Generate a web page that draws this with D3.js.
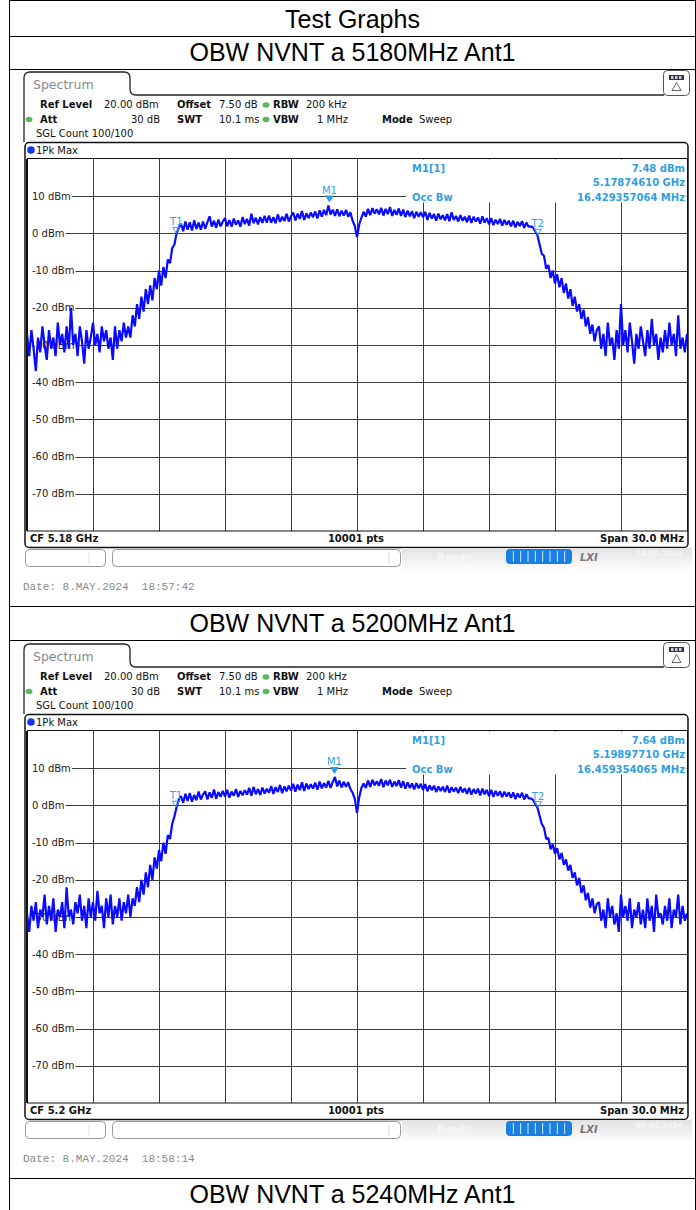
<!DOCTYPE html>
<html>
<head>
<meta charset="utf-8">
<script src="https://cdn.jsdelivr.net/npm/d3@7"></script>
<style>
  body { margin: 0; background: #fff; }
  svg { display: block; }
</style>
</head>
<body>
<svg id="page" width="696" height="1210"></svg>
<script>
/** Chart data **/
var pageTitle = "Test Graphs";
var sectionTitles = ["OBW NVNT a 5180MHz Ant1", "OBW NVNT a 5200MHz Ant1", "OBW NVNT a 5240MHz Ant1"];
var centerLabels = ["CF 5.18 GHz", "CF 5.2 GHz"];
var spanLabel = "Span 30.0 MHz";
var pointsLabel = "10001 pts";
var markerFreqs = [-1.2539, -1.0229];          // MHz offset from CF
var markerLevels = [7.48, 7.64];               // dBm
var markerReadouts = [
    ["7.48 dBm", "5.17874610 GHz", "16.429357064 MHz"],
    ["7.64 dBm", "5.19897710 GHz", "16.459354065 MHz"]
];
var obwWidths = [16.429357064, 16.459354065];  // MHz
var dateLines = ["Date: 8.MAY.2024  18:57:42", "Date: 8.MAY.2024  18:58:14"];
var statusTimes = ["18:57:42", "18:58:14"];
var levelTicks = [10, 0, -10, -20, -30, -40, -50, -60, -70];
var freqGrid = [-12, -9, -6, -3, 0, 3, 6, 9, 12];
var sweepStart = -15;     // MHz
var sweepStep = 0.1;      // MHz per sample

// Pk Max trace, 5180 MHz (dBm), one row per MHz
var trace5180 = [
    -27,-33,-26,-31,-37,-28,-32,-25,-30,-34,
    -26,-31,-28,-33,-24,-30,-27,-32,-25,-31,
    -20,-30,-27,-33,-25,-29,-35,-26,-31,-28,
    -24,-30,-27,-32,-25,-29,-26,-31,-28,-34,
    -25,-31,-26,-29,-24,-28,-25,-28,-22,-25,
    -19,-23,-17,-21,-15,-19,-14,-18,-12,-15,
    -10,-14,-9,-12,-7,-8,-4,-3,0,1.5,
    2.6,0.6,3.2,1,3,0.8,3.5,1.2,2.9,1,
    3.2,1.3,3,4.6,1.8,3.4,1.5,3.7,1.9,3.2,
    4.1,1.9,3.6,1.8,4,2.3,3.5,1.8,4.4,2.5,
    3.9,2.1,5.3,2.7,4.2,2.4,4.4,2.8,4.7,2.9,
    4.8,2.9,4.4,2.7,5.1,3.1,4.5,3.3,5.3,3.2,
    4.6,5.6,3.5,5.3,3.9,6,3.6,5.4,4.1,5.6,
    4.3,5.9,4,6.2,4.5,6.3,4.9,7.48,5.1,6.4,
    4.7,6.5,4.6,6.1,4.8,6.3,4.5,5.7,3.4,2,
    -1,2.4,4.2,5.8,4.5,6.6,4.9,6.8,5.3,6.5,
    5.1,6.9,4.8,6.6,5.2,7.1,4.7,6.3,5,6.7,
    4.7,6.4,4.4,6.1,4.6,6,4.1,5.8,4.5,5.7,
    4.3,5.8,3.6,5.5,4,5.2,3.4,5.3,3.8,4.9,
    3.5,5.2,3.3,5.7,3.6,4.7,3.2,4.9,3.4,4.5,
    3,4.8,2.8,4.5,3.2,4.3,2.6,4.6,2.9,4.1,
    2.4,4.1,2.2,3.7,2.5,3.9,2.1,3.6,2.3,3.4,
    1.9,3.4,1.6,3.1,2,3.3,1.5,2.9,1.8,1.9,
    1.6,0.5,-0.5,-3,-5.5,-6,-9.5,-8.5,-12,-10,
    -13.5,-11,-14.5,-12,-16,-13.5,-17.5,-15,-19.5,-17,
    -21,-19,-23,-20.5,-25,-22.5,-27,-24.5,-29,-26,
    -25,-31,-27,-33,-24,-30,-28,-34,-26,-31,
    -19,-30,-26,-32,-24,-29,-35,-27,-31,-25,
    -29,-33,-26,-31,-23,-30,-27,-34,-28,-32,
    -26,-31,-24,-30,-27,-33,-22,-31,-28,-32,
    -27
];

// Pk Max trace, 5200 MHz (dBm)
var trace5200 = [
    -29,-34,-27,-31,-26,-33,-28,-30,-24,-32,
    -27,-31,-25,-34,-28,-30,-26,-33,-22,-30,
    -28,-32,-26,-29,-24,-31,-27,-33,-25,-30,
    -26,-31,-23,-29,-27,-33,-25,-30,-24,-32,
    -27,-30,-25,-31,-26,-29,-24,-30,-25,-27,
    -22,-26,-20,-24,-18,-22,-16,-20,-14,-17,
    -12,-15,-10,-13,-8,-9,-5,-3,-0.5,1.5,
    2.5,0.7,3.1,1.2,3.3,1,2.8,1.4,3.7,1.6,
    2.9,3.8,1.6,3.5,2,4.3,1.8,3.6,2.3,3.9,
    2.4,4.2,2.1,3.7,2.6,4.4,2.3,3.9,2.7,4.1,
    2.9,4.7,2.6,5,3,4.4,2.8,4.8,3.2,4.5,
    3.4,5.2,3.1,4.9,3.6,5.5,3.3,5.1,3.8,5.3,
    4,5.8,3.7,5.6,4.1,6.2,3.9,5.9,4.4,5.7,
    4.5,6.1,4.2,6.4,4.6,6,4.8,6.6,4.7,6.3,
    7.64,5.1,6.7,4.8,6.4,5,6.2,4.4,3.4,1.8,
    -2,2.2,4.7,5.9,4.7,6.7,5,6.9,5.4,6.5,
    5.3,7.1,4.9,6.7,5.4,6.9,5,6.4,5.2,6.8,
    4.8,6.5,4.5,6.2,4.7,5.9,4.3,6,4.6,5.8,
    4.2,5.7,3.8,5.4,4.1,5.3,3.6,5.1,3.9,5,
    3.6,5.3,3.4,4.9,3.7,4.8,3.3,5,3.5,4.6,
    3.1,4.7,2.9,4.4,3.2,4.5,2.7,4.5,3,4.2,
    2.5,4.2,2.3,3.9,2.6,3.8,2.2,3.7,2.4,3.5,
    2,3.5,1.7,3.2,2.1,3.4,1.6,3,1.9,1.9,
    1.5,0.4,-0.6,-2.8,-5,-6,-9,-8.8,-11.8,-10.5,
    -13,-11.5,-14.5,-12.8,-16,-14.5,-17.5,-16,-19.5,-18,
    -21.5,-19.5,-23.5,-21.5,-25.5,-23.5,-27.5,-25,-29,-26.5,
    -26,-31,-28,-33,-25,-30,-27,-32,-29,-34,
    -24,-30,-27,-31,-25,-33,-28,-30,-26,-32,
    -28,-33,-25,-31,-27,-34,-24,-30,-29,-32,
    -27,-31,-25,-33,-28,-30,-24,-32,-27,-31,
    -29
];

var traces = [trace5180, trace5200];

/** Layout **/
var tableLeft = 9.5, tableRight = 695.5;
var rowLines = [0.5, 36.5, 69.5, 606.5, 640.5, 1178.5];
var screenTops = [69, 641];

var plotX0 = 27, plotX1 = 687, plotY0 = 159, plotY1 = 531;

var color_trace  = '#0a0aff';
var color_marker = '#2f9fe2';
var color_grid   = '#3c3c3c';
var uiFont = '"DejaVu Sans", Verdana, sans-serif';

var svg = d3.select("#page");

var defs = svg.append("defs");
var grad = defs.append("linearGradient")
    .attr("id", "statusGrad")
    .attr("x1", 0).attr("y1", 0).attr("x2", 0).attr("y2", 1);
grad.append("stop").attr("offset", "0%").attr("stop-color", "#e2e2e2");
grad.append("stop").attr("offset", "100%").attr("stop-color", "#ffffff");

defs.append("clipPath").attr("id", "plotClip")
    .append("rect")
    .attr("x", plotX0).attr("y", plotY0)
    .attr("width", plotX1 - plotX0).attr("height", plotY1 - plotY0);

drawTable();
drawScreen(0);
drawScreen(1);


/**
 * Document table with the title rows.
 */
function drawTable()
{
    var t = svg.append("g");

    rowLines.forEach(function(y) {
        t.append("line")
            .attr("x1", tableLeft).attr("x2", tableRight)
            .attr("y1", y).attr("y2", y)
            .attr("stroke", "#000").attr("stroke-width", 1);
    });

    [tableLeft, tableRight].forEach(function(x) {
        t.append("line")
            .attr("x1", x).attr("x2", x)
            .attr("y1", 0).attr("y2", 1210)
            .attr("stroke", "#000").attr("stroke-width", 1);
    });

    var titleY = [28, 61, 632, 1203];
    var titleText = [pageTitle].concat(sectionTitles);

    titleText.forEach(function(txt, i) {
        t.append("text")
            .attr("x", (tableLeft + tableRight) / 2)
            .attr("y", titleY[i])
            .attr("text-anchor", "middle")
            .attr("font-family", '"Liberation Sans", Arial, sans-serif')
            .attr("font-size", 25)
            .attr("fill", "#000")
            .text(txt);
    });
}


/**
 * One analyzer screenshot (spectrum, markers, status bar).
 */
function drawScreen(k)
{
    var trace = traces[k];
    var dy = screenTops[k] - screenTops[0];
    var g = svg.append("g").attr("transform", "translate(0," + dy + ")");

    var xScale = d3.scaleLinear().domain([-15, 15]).range([plotX0, plotX1]);
    var yScale = d3.scaleLinear().domain([-80, 20]).range([plotY1, plotY0]);

    // Tab frame
    g.append("path")
        .attr("d", "M24,142 V78 Q24,72 30,72 H124 Q130,72 130,78 V89 Q130,95 136,95 H664")
        .attr("fill", "none").attr("stroke", "#222").attr("stroke-width", 1.3);

    g.append("text")
        .attr("x", 33).attr("y", 89)
        .attr("font-family", uiFont).attr("font-size", 12.5)
        .attr("fill", "#888").text("Spectrum");

    // Window icon top right
    g.append("rect")
        .attr("x", 663.5).attr("y", 70.5).attr("width", 26).attr("height", 25).attr("rx", 4)
        .attr("fill", "#fff").attr("stroke", "#555");
    g.append("rect")
        .attr("x", 669).attr("y", 75).attr("width", 15).attr("height", 5)
        .attr("fill", "#334");
    [671, 675, 679].forEach(function(x) {
        g.append("rect").attr("x", x).attr("y", 76).attr("width", 2.5).attr("height", 3).attr("fill", "#ccd");
    });
    g.append("path")
        .attr("d", "M676.5,82.5 L672,90.5 L681,90.5 Z")
        .attr("fill", "none").attr("stroke", "#667").attr("stroke-width", 1);

    // Settings header
    var hdr = g.append("g")
        .attr("font-family", uiFont).attr("font-size", 10).attr("fill", "#111");

    function htext(x, y, txt, bold, anchor) {
        hdr.append("text")
            .attr("x", x).attr("y", y)
            .attr("font-weight", bold ? "bold" : "normal")
            .attr("text-anchor", anchor || "start")
            .text(txt);
    }
    function dot(x, y, col) {
        hdr.append("ellipse").attr("cx", x).attr("cy", y).attr("rx", 3.5).attr("ry", 2.8).attr("fill", col);
    }

    htext(40, 108, "Ref Level", true);
    htext(104, 108, "20.00 dBm", false);
    htext(177, 108, "Offset", true);
    htext(219, 108, "7.50 dB", false);
    dot(266, 105, "#5cb85c");
    htext(273, 108, "RBW", true);
    htext(306, 108, "200 kHz", false);

    dot(29, 119.5, "#5cb85c");
    htext(40, 123, "Att", true);
    htext(160, 123, "30 dB", false, "end");
    htext(177, 123, "SWT", true);
    htext(219, 123, "10.1 ms", false);
    dot(266, 119.5, "#5cb85c");
    htext(273, 123, "VBW", true);
    htext(348, 123, "1 MHz", false, "end");
    htext(382, 123, "Mode", true);
    htext(419, 123, "Sweep", false);

    htext(36, 137, "SGL Count 100/100", false);

    // Diagram panel
    g.append("rect")
        .attr("x", 25).attr("y", 142.5).attr("width", 663).attr("height", 405).attr("rx", 4)
        .attr("fill", "#fff").attr("stroke", "#111").attr("stroke-width", 1.5);

    g.append("circle").attr("cx", 31).attr("cy", 150).attr("r", 3.8).attr("fill", "#1438e0");
    g.append("text")
        .attr("x", 36).attr("y", 154)
        .attr("font-family", uiFont).attr("font-size", 10).attr("fill", "#111")
        .text("1Pk Max");

    // Vertical grid
    g.append("g").selectAll("line")
        .data(freqGrid).enter()
        .append("line")
        .attr("x1", function(d) { return xScale(d) + 0.5; })
        .attr("x2", function(d) { return xScale(d) + 0.5; })
        .attr("y1", plotY0).attr("y2", plotY1)
        .attr("stroke", color_grid).attr("stroke-width", 1);

    // Horizontal grid with level labels
    var lv = g.append("g").selectAll("g")
        .data(levelTicks).enter()
        .append("g");

    lv.append("text")
        .attr("x", 32)
        .attr("y", function(d) { return yScale(d) + 3.5; })
        .attr("font-family", uiFont).attr("font-size", 10).attr("fill", "#222")
        .text(function(d) { return d + " dBm"; });

    lv.each(function(d) {
        var w = d3.select(this).select("text").node().getComputedTextLength();
        d3.select(this).insert("line", "text")
            .attr("x1", 32 + w + 1).attr("x2", plotX1)
            .attr("y1", Math.round(yScale(d)) + 0.5).attr("y2", Math.round(yScale(d)) + 0.5)
            .attr("stroke", color_grid).attr("stroke-width", 1);
    });

    // Plot border (double left edge)
    g.append("rect")
        .attr("x", plotX0 + 0.5).attr("y", plotY0 - 0.5)
        .attr("width", plotX1 - plotX0).attr("height", plotY1 - plotY0 + 0.5)
        .attr("fill", "none").attr("stroke", "#111").attr("stroke-width", 1);
    g.append("line")
        .attr("x1", plotX0 - 0.5).attr("x2", plotX0 - 0.5)
        .attr("y1", plotY0).attr("y2", plotY1)
        .attr("stroke", "#111").attr("stroke-width", 1);

    // Marker readout box
    g.append("rect")
        .attr("x", 406).attr("y", plotY0 + 0.5).attr("width", plotX1 - 406 - 0.5).attr("height", 43)
        .attr("fill", "#fff");

    var ro = g.append("g")
        .attr("font-family", uiFont).attr("font-size", 10)
        .attr("font-weight", "bold").attr("fill", color_marker);
    ro.append("text").attr("x", 412).attr("y", 172).text("M1[1]");
    ro.append("text").attr("x", 412).attr("y", 200.5).text("Occ Bw");
    ro.selectAll("text.val")
        .data(markerReadouts[k]).enter()
        .append("text").attr("class", "val")
        .attr("x", 685)
        .attr("y", function(d, i) { return 172 + i * 14.3; })
        .attr("text-anchor", "end")
        .text(function(d) { return d; });

    // Trace
    var line = d3.line()
        .x(function(d, i) { return xScale(sweepStart + i * sweepStep); })
        .y(function(d) { return yScale(d); });

    g.append("path")
        .datum(trace)
        .attr("clip-path", "url(#plotClip)")
        .attr("d", line)
        .attr("fill", "none")
        .attr("stroke", color_trace)
        .attr("stroke-width", 2.2)
        .attr("stroke-linejoin", "bevel");

    // M1 marker
    var mx = xScale(markerFreqs[k]);
    var my = yScale(markerLevels[k]);
    g.append("path")
        .attr("d", "M" + (mx - 4.5) + "," + (my - 10) + " L" + (mx + 4.5) + "," + (my - 10) + " L" + mx + "," + (my - 3) + " Z")
        .attr("fill", color_marker);
    g.append("text")
        .attr("x", mx).attr("y", my - 12)
        .attr("text-anchor", "middle")
        .attr("font-family", uiFont).attr("font-size", 10).attr("fill", color_marker)
        .text("M1");

    // T1 / T2 (occupied bandwidth edges)
    var edges = [-obwWidths[k] / 2, obwWidths[k] / 2];
    edges.forEach(function(f, j) {
        var idx = Math.round((f - sweepStart) / sweepStep);
        var tx = xScale(f);
        var ty = yScale(trace[idx]);
        g.append("path")
            .attr("d", "M" + (tx - 3.5) + "," + (ty - 6) + " L" + (tx + 3.5) + "," + (ty - 6) + " L" + tx + "," + ty + " Z")
            .attr("fill", "none").attr("stroke", color_marker).attr("stroke-width", 1);
        g.append("text")
            .attr("x", tx).attr("y", ty - 8)
            .attr("text-anchor", "middle")
            .attr("font-family", uiFont).attr("font-size", 10).attr("fill", color_marker)
            .text("T" + (j + 1));
    });

    // Footer row
    var ft = g.append("g")
        .attr("font-family", uiFont).attr("font-size", 10)
        .attr("font-weight", "bold").attr("fill", "#111");
    ft.append("text").attr("x", 30).attr("y", 542).text(centerLabels[k]);
    ft.append("text").attr("x", 356).attr("y", 542).attr("text-anchor", "middle").text(pointsLabel);
    ft.append("text").attr("x", 684).attr("y", 542).attr("text-anchor", "end").text(spanLabel);

    // Status bar
    g.append("rect")
        .attr("x", 402).attr("y", 548).attr("width", 290).attr("height", 24)
        .attr("fill", "url(#statusGrad)");

    [[25.5, 80, 89], [112.5, 288, 389]].forEach(function(b) {
        g.append("rect")
            .attr("x", b[0]).attr("y", 549.5).attr("width", b[1]).attr("height", 17).attr("rx", 4)
            .attr("fill", "#fff").attr("stroke", "#999");
        g.append("line")
            .attr("x1", b[2]).attr("x2", b[2]).attr("y1", 552).attr("y2", 564)
            .attr("stroke", "#ddd");
    });

    g.append("text")
        .attr("x", 437).attr("y", 561)
        .attr("font-family", uiFont).attr("font-size", 10).attr("font-weight", "bold")
        .attr("fill", "#f6f6f6").text("Ready");

    g.append("rect")
        .attr("x", 506).attr("y", 549).attr("width", 66).attr("height", 15).attr("rx", 4)
        .attr("fill", "#1a7fe2");
    d3.range(1, 9).forEach(function(j) {
        g.append("line")
            .attr("x1", 506 + j * 66 / 9).attr("x2", 506 + j * 66 / 9)
            .attr("y1", 551).attr("y2", 562)
            .attr("stroke", "#d8e8fa").attr("stroke-width", 1);
    });

    g.append("text")
        .attr("x", 580).attr("y", 561)
        .attr("font-family", uiFont).attr("font-size", 10).attr("font-weight", "bold")
        .attr("font-style", "italic").attr("fill", "#777").text("LXI");

    g.append("text")
        .attr("x", 683).attr("y", 556).attr("text-anchor", "end")
        .attr("font-family", uiFont).attr("font-size", 7.5).attr("font-weight", "bold")
        .attr("fill", "#f4f4f4").text("08.05.2024");
    g.append("text")
        .attr("x", 683).attr("y", 565).attr("text-anchor", "end")
        .attr("font-family", uiFont).attr("font-size", 7.5).attr("font-weight", "bold")
        .attr("fill", "#f4f4f4").text(statusTimes[k]);

    // Capture date
    g.append("text")
        .attr("x", 23).attr("y", 590)
        .attr("font-family", '"Liberation Mono", "DejaVu Sans Mono", monospace')
        .attr("font-size", 11).attr("fill", "#888")
        .style("white-space", "pre")
        .text(dateLines[k]);
}
</script>
</body>
</html>
